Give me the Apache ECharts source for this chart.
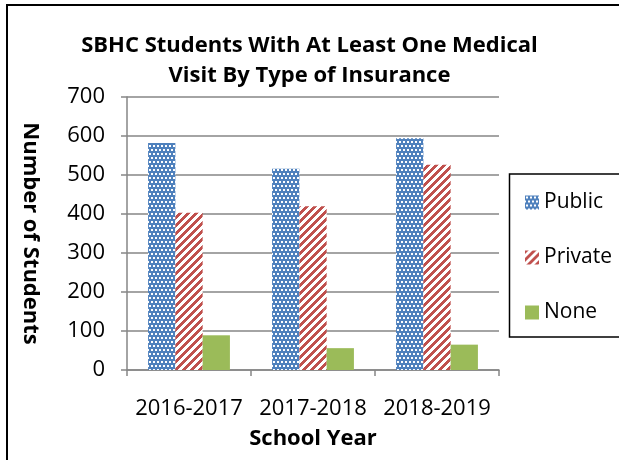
<!DOCTYPE html>
<html><head><meta charset="utf-8">
<script src="https://cdn.jsdelivr.net/npm/echarts@6/dist/echarts.min.js"></script>
<style>html,body{margin:0;padding:0;background:#fff;}#c{width:619px;height:460px;}</style>
</head><body><div id="c"></div>
<script>
const categories = ['2016-2017', '2017-2018', '2018-2019'];
const publicValues = [582, 516, 594];
const privateValues = [403, 420, 526];
const noneValues = [89, 56, 65];
const yTicks = { min: 0, max: 700, interval: 100 };
const titleText = 'SBHC Students With At Least One Medical\nVisit By Type of Insurance';

const FONT = 'Open Sans';

function dotPattern() {
  const c = document.createElement('canvas');
  c.width = 8; c.height = 8;
  const g = c.getContext('2d');
  g.fillStyle = '#4F81BD'; g.fillRect(0, 0, 8, 8);
  g.fillStyle = '#ffffff';
  g.fillRect(1, 1, 2, 2); g.fillRect(5, 1, 2, 2);
  g.fillRect(3, 5, 2, 2); g.fillRect(7, 5, 1, 2); g.fillRect(0, 5, 1, 2);
  return c;
}
function stripePattern() {
  const c = document.createElement('canvas');
  c.width = 8; c.height = 8;
  const g = c.getContext('2d');
  g.fillStyle = '#ffffff'; g.fillRect(0, 0, 8, 8);
  g.fillStyle = '#C0504D';
  for (let y = 0; y < 8; y++) {
    for (let k = 0; k < 4; k++) {
      const x = ((7 - y) + k + 8) % 8;
      g.fillRect(x, y, 1, 1);
    }
  }
  return c;
}

const chart = echarts.init(document.getElementById('c'), null, { renderer: 'canvas' });
chart.setOption({
  animation: false,
  backgroundColor: '#ffffff',
  textStyle: { fontFamily: FONT },
  title: {
    text: titleText,
    left: 'center', top: 26,
    padding: [5, 0, 5, 12],
    textStyle: { fontFamily: FONT, fontWeight: 'bold', fontSize: 22, lineHeight: 30, color: '#000' }
  },
  grid: { left: 127, right: 120, top: 97, bottom: 90 },
  legend: {
    orient: 'vertical',
    left: 520, top: 187,
    itemWidth: 14, itemHeight: 14, itemGap: 34,
    icon: 'rect',
    textStyle: { fontFamily: FONT, fontSize: 21, lineHeight: 20, color: '#000' },
    data: ['Public', 'Private', 'None']
  },
  xAxis: {
    type: 'category',
    data: categories,
    name: 'School Year',
    nameLocation: 'middle',
    nameGap: 58,
    nameTextStyle: { fontFamily: FONT, fontWeight: 'bold', fontSize: 22, color: '#000' },
    axisLine: { lineStyle: { color: '#868686', width: 1.5 } },
    axisTick: { show: true, length: 6, lineStyle: { color: '#868686', width: 1.5 } },
    axisLabel: { fontFamily: FONT, fontSize: 22, color: '#000', margin: 28, interval: 0 }
  },
  yAxis: {
    type: 'value',
    min: yTicks.min, max: yTicks.max, interval: yTicks.interval,
    name: 'Number of Students',
    nameLocation: 'middle',
    nameGap: 86,
    nameRotate: -90,
    nameTextStyle: { fontFamily: FONT, fontWeight: 'bold', fontSize: 22, color: '#000' },
    axisLine: { show: true, lineStyle: { color: '#868686', width: 1.5 } },
    axisTick: { show: true, length: 6, lineStyle: { color: '#868686', width: 1.5 } },
    splitLine: { lineStyle: { color: '#868686', width: 1.5 } },
    axisLabel: { fontFamily: FONT, fontSize: 22, color: '#000', margin: 22 }
  },
  series: [
    { name: 'Public', type: 'bar', data: publicValues, barGap: '0%', barCategoryGap: '34%',
      itemStyle: { color: { image: dotPattern(), repeat: 'repeat' } } },
    { name: 'Private', type: 'bar', data: privateValues,
      itemStyle: { color: { image: stripePattern(), repeat: 'repeat' } } },
    { name: 'None', type: 'bar', data: noneValues,
      itemStyle: { color: '#9BBB59' } }
  ],
  graphic: [
    { type: 'rect', shape: { x: 7, y: 5, width: 800, height: 800 }, style: { fill: 'none', stroke: '#000', lineWidth: 2 }, z: 100 },
    { type: 'rect', shape: { x: 509.5, y: 174, width: 300, height: 163 }, style: { fill: 'none', stroke: '#000', lineWidth: 1.5 }, z: 100 }
  ]
});
</script>
</body></html>
